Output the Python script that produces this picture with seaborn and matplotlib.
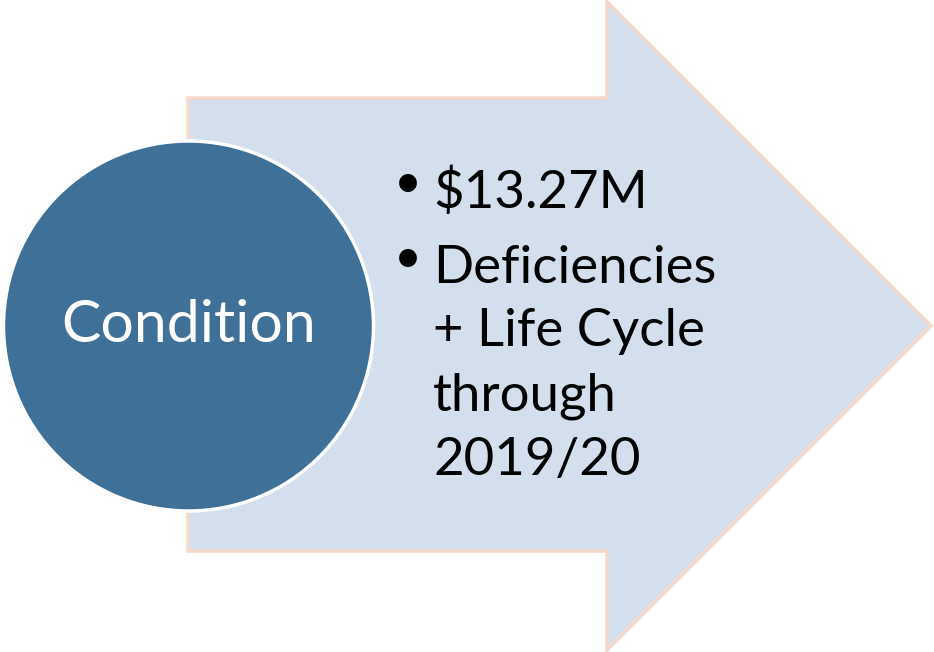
import matplotlib
matplotlib.use("Agg")
import matplotlib.pyplot as plt
import seaborn as sns
from matplotlib.patches import Polygon, Circle

sns.set_theme(style="white")
plt.rcParams['font.family'] = ['Lato', 'DejaVu Sans']

circle_label = "Condition"
bullet_lines = [["$13.27M"], ["Deficiencies", "+ Life Cycle", "through", "2019/20"]]

arrow_fill = "#D3DFEC"
arrow_edge = "#F6D8CA"
circle_fill = "#3F7097"

W, H = 934, 652
fig = plt.figure(figsize=(W / 100, H / 100), dpi=100)
ax = fig.add_axes([0, 0, 1, 1])
ax.set_xlim(0, W)
ax.set_ylim(H, 0)
ax.axis("off")

arrow_pts = [(188, 98), (607, 98), (607, 2), (931, 326), (607, 650), (607, 551), (188, 551)]
ax.add_patch(Polygon(arrow_pts, closed=True, facecolor=arrow_fill, edgecolor=arrow_edge, linewidth=2.5, zorder=1))

ax.add_patch(Circle((188.5, 326), 185, facecolor=circle_fill, edgecolor="white", linewidth=2.5, zorder=2))
ax.text(188.5, 326, circle_label, color="white", fontsize=42.5, ha="center", va="center", zorder=3)

baselines = [208, 283, 346, 410, 475]
i = 0
for group in bullet_lines:
    for j, line in enumerate(group):
        y = baselines[i]
        if j == 0:
            ax.text(390, y - 2, "•", fontsize=44, color="black", ha="left", va="baseline", family=['DejaVu Sans'])
        ax.text(433, y, line, fontsize=38, color="black", ha="left", va="baseline")
        i += 1

fig.savefig("out.png", dpi=100)
